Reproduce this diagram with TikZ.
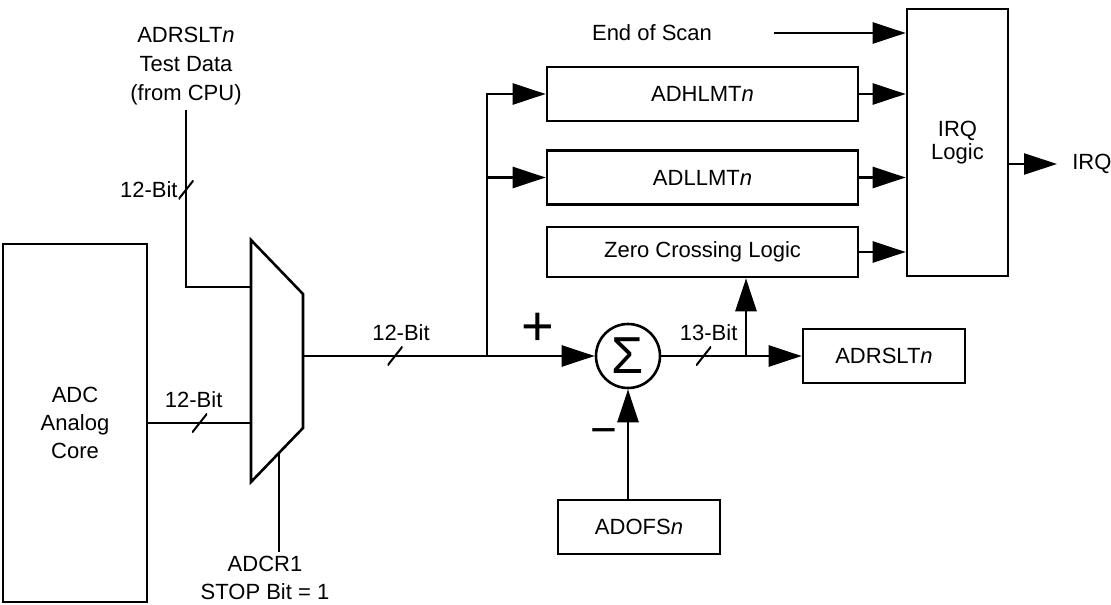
\documentclass[tikz,border=0pt]{standalone}
\usepackage{fontspec}
\setmainfont{Liberation Sans}
\usetikzlibrary{arrows.meta}

\begin{document}
\begin{tikzpicture}[x=1pt, y=-1pt, line width=2.6pt, font=\fontsize{22}{28}\selectfont]
\tikzset{el/.style={draw, rectangle, inner sep=0pt},
 arr/.style={-{Triangle[length=33pt, width=21pt]}},
 lbl/.style={font=\fontsize{22}{26}\selectfont},
 slash/.style={inner sep=0pt, minimum width=15pt, minimum height=19pt,
  path picture={\draw[line width=2pt] (path picture bounding box.south west) -- (path picture bounding box.north east);}}}

\useasboundingbox (0,0) rectangle (1111,605);

% ADC core and input mux
\node[el, minimum width=144pt, minimum height=358pt, align=center] (core) at (75,423)
{ADC\\Analog\\Core};

\coordinate (mtl) at (251,240);
\coordinate (mtr) at (303,294);
\coordinate (mbr) at (303,428);
\coordinate (mbl) at (251,482);
\draw (mtl) -- (mtr) -- (mbr) -- (mbl) -- cycle;
\coordinate (muxa) at (251,287);
\coordinate (muxb) at (251,423);
\coordinate (muxo) at (303,356);
\coordinate (muxs) at (279,453);

\node[align=center, inner sep=4pt, font=\fontsize{22}{29}\selectfont] (tdata) at (186,66)
{ADRSLT\textit{n}\\Test Data\\(from CPU)};
\node[align=center] (stop) at (265,578)
{ADCR1\\STOP Bit = 1};

% Limit registers and IRQ
\node[el, minimum width=311pt, minimum height=54pt] (hlmt) at (702.5,94) {ADHLMT\textit{n}};
\node[el, minimum width=311pt, minimum height=54pt] (llmt) at (702.5,177.5) {ADLLMT\textit{n}};
\node[el, minimum width=311pt, minimum height=50pt] (zc) at (702.5,252) {Zero Crossing Logic};
\node[el, minimum width=101pt, minimum height=267pt, align=center,
 font=\fontsize{22}{23}\selectfont] (irq) at (957.5,142.5) {IRQ\\Logic};
\node (eos) at (652,33) {End of Scan};
\node[anchor=west, inner xsep=14pt] (irqlbl) at (1057,164) {IRQ};

% Summing point and result
\node[draw, circle, minimum size=64pt, inner sep=0pt] (sum) at (628,356)
{\fontsize{52}{52}\selectfont Σ};
\node[el, minimum width=162pt, minimum height=54pt] (rslt) at (884,356) {ADRSLT\textit{n}};
\node[el, minimum width=162pt, minimum height=54pt] (ofs) at (639,527) {ADOFS\textit{n}};
\node (plus) at (538,329) {\fontsize{56}{56}\selectfont +};
\node (minus) at (604,437) {\fontsize{46}{46}\selectfont −};

\coordinate (br) at (487,356);
\coordinate (br2) at (746,356);

% Connections
\draw (core.east) -- node[slash, label={[lbl, xshift=-6pt]above:12-Bit}] {} (muxb);
\draw (tdata.south) -- node[slash, pos=0.45, label={[lbl, label distance=-5pt]left:12-Bit}] {} (tdata.south |- muxa) -- (muxa);
\draw (muxs) -- (muxs |- stop.north);
\draw (muxo) -- node[slash, label={[lbl, xshift=6pt]above:12-Bit}] {} (br);
\draw[arr] (br) -- (sum.west);
\draw[arr] (br) |- (hlmt.west);
\draw[arr] (br |- llmt) -- (llmt.west);
\draw (sum.east) -- node[slash, label={[lbl, xshift=5pt]above:13-Bit}] {} (br2);
\draw[arr] (br2) -- (rslt.west);
\draw[arr] (br2) -- (br2 |- zc.south);
\draw[arr] (sum.south |- ofs.north) -- (sum.south);

\draw[arr] ([xshift=57pt]eos.east) -- (eos.east -| irq.west);
\draw[arr] (hlmt.east) -- (hlmt.east -| irq.west);
\draw[arr] (llmt.east) -- (llmt.east -| irq.west);
\draw[arr] (zc.east) -- (zc.east -| irq.west);
\draw[arr] (irq.east |- irqlbl) -- (irqlbl.west);

\end{tikzpicture}
\end{document}
